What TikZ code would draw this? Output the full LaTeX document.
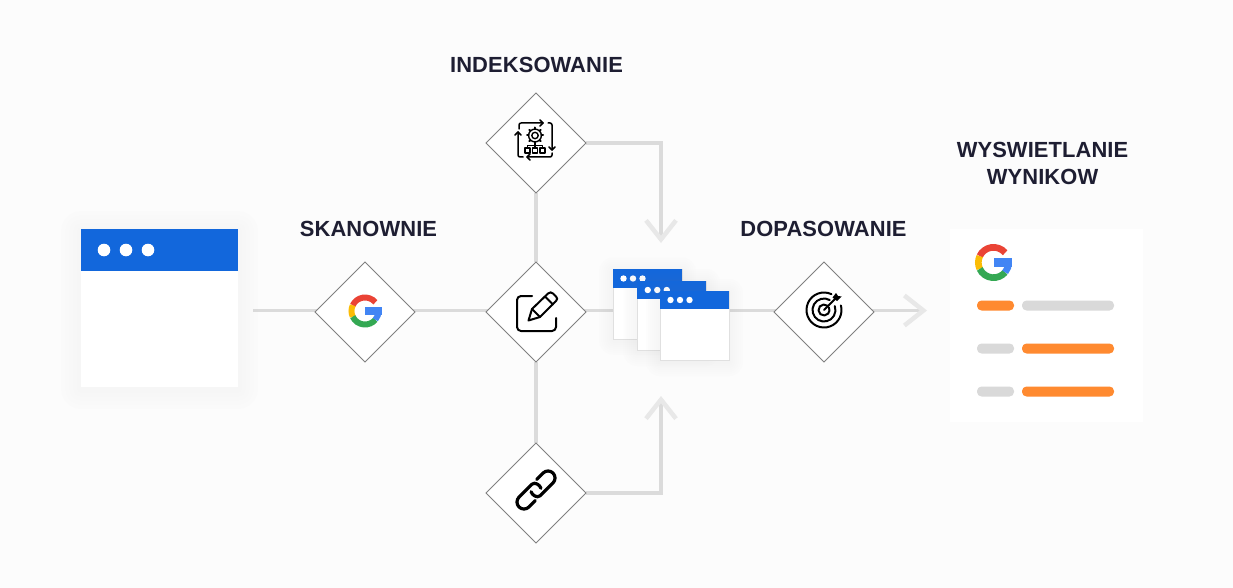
\documentclass[tikz,border=0pt]{standalone}
\usepackage{fontspec}
\setmainfont{Liberation Sans}
\usetikzlibrary{shapes.geometric,arrows.meta,backgrounds}

\definecolor{pagebg}{HTML}{FCFCFC}
\definecolor{linkgray}{HTML}{DBDBDB}
\definecolor{tipgray}{HTML}{E8E8E8}
\definecolor{barblue}{HTML}{1267DC}
\definecolor{labelink}{HTML}{1E1E32}
\definecolor{rowgray}{HTML}{D9D9D9}
\definecolor{roworange}{HTML}{FF8A30}
\definecolor{gred}{HTML}{EA4335}
\definecolor{gyellow}{HTML}{FBBC05}
\definecolor{ggreen}{HTML}{34A853}
\definecolor{gblue}{HTML}{4285F4}

\tikzset{
    stepbox/.style={diamond,draw=black!50,line width=0.8pt,fill=white,minimum width=100pt,minimum height=100pt,inner sep=0pt,outer sep=0pt},
    steplabel/.style={text=labelink,font=\fontsize{21.9}{27}\selectfont\bfseries\addfontfeatures{LetterSpace=0.5},align=center,inner sep=0pt},
    winbody/.style={fill=white,inner sep=0pt,outer sep=0pt},
    winbar/.style={fill=barblue,inner sep=0pt,outer sep=0pt,anchor=north},
    windot/.style={circle,fill=white,inner sep=0pt,outer sep=0pt,minimum size=#1},
    rowbar/.style={fill=#1,rounded corners=4.5pt,minimum height=10pt,inner sep=0pt,outer sep=0pt},
    link/.style={draw=linkgray,line width=3.2pt},
    linktip/.style={-{Straight Barb[length=19pt,width=30pt,line width=4.5pt,color=tipgray]}},
    icon/.style={draw=black,line width=#1,line cap=round,line join=round},
    icon/.default=2pt,
    googleg/.pic={
        \draw[gred,line width=0.36*#1 pt] (-40:0.82*#1) arc (-40:-155:0.82*#1);
        \draw[gyellow,line width=0.36*#1 pt] (-155:0.82*#1) arc (-155:-205:0.82*#1);
        \draw[ggreen,line width=0.36*#1 pt] (-205:0.82*#1) arc (-205:-320:0.82*#1);
        \draw[gblue,line width=0.36*#1 pt] (-320:0.82*#1) arc (-320:-360:0.82*#1);
        \fill[gblue] (0.02*#1,-0.24*#1) rectangle (#1,0.26*#1);
    }
}

% soft shadow under a window
\newcommand{\softshadow}[3]{
    \foreach \s in {#2,...,#3} {
        \fill[black!35,opacity=0.01,rounded corners=\s pt] ([xshift=-\s pt,yshift=-\s pt-2pt]#1.south west) rectangle ([xshift=\s pt,yshift=\s pt-2pt]#1.north east);
    }
}

\begin{document}
\begin{tikzpicture}[x=1pt,y=-1pt]

    \useasboundingbox (0,0) rectangle (1233,588);

    \coordinate (midline) at (0,310.5);
    \coordinate (pageout) at (253,310.5);
    \coordinate (endtip) at (927,310.5);
    \coordinate (downtip) at (661,243);
    \coordinate (uptip) at (661,396);

    % big window
    \coordinate (page) at (159.5,308);
    \node[minimum width=157pt,minimum height=158pt,inner sep=0pt,outer sep=0pt] (pageshade) at (page) {};
    \softshadow{pageshade}{4,8}{20}
    \node[winbody,minimum width=157pt,minimum height=158pt] (pagebox) at (page) {};
    \node[winbar,minimum width=157pt,minimum height=42pt] (pagebar) at (pagebox.north) {};
    \foreach \x in {23,45,67} {
        \node[windot=12.6pt] at ([xshift=\x pt]pagebar.west) {};
    }

    % diamonds
    \node[stepbox] (scan) at (365,312) {};
    \node[stepbox] (edit) at (536,312) {};
    \node[stepbox] (index) at (536,143) {};
    \node[stepbox] (chain) at (536,493) {};
    \node[stepbox] (match) at (824,312) {};

    % stacked windows
    \foreach \n/\cx/\cy in {wina/647.5/304,winb/671.75/315.5,winc/694.5/325.5} {
        \node[minimum width=69pt,minimum height=69.5pt,inner sep=0pt,outer sep=0pt] (\n) at (\cx,\cy) {};
        \softshadow{\n}{2,4}{14}
        \node[winbody,draw=black!12,line width=0.5pt,minimum width=69pt,minimum height=69.5pt] at (\n) {};
        \node[winbar,minimum width=69pt,minimum height=18.5pt] (\n bar) at (\n.north) {};
        \foreach \x in {10.5,20,29.5} {
            \node[windot=6.4pt] at ([xshift=\x pt]\n bar.west) {};
        }
    }

    % connectors
    \begin{scope}[on background layer]
        \fill[pagebg] (0,0) rectangle (1233,588);
        \draw[link] (pageout) -- (scan |- midline);
        \draw[link] (scan |- midline) -- (edit |- midline);
        \draw[link] (edit |- midline) -- (wina |- midline);
        \draw[link] (winc |- midline) -- (match |- midline);
        \draw[link,linktip] (match |- midline) -- (endtip);
        \draw[link] (index) -- (edit);
        \draw[link] (edit) -- (chain);
        \draw[link,linktip] (index) -- (index -| downtip) -- (downtip);
        \draw[link,linktip] (chain) -- (chain -| uptip) -- (uptip);
    \end{scope}

    % labels
    \node[steplabel] (scanlabel) at (368.5,229) {SKANOWNIE};
    \node[steplabel] (indexlabel) at (536.5,65) {INDEKSOWANIE};
    \node[steplabel] (matchlabel) at (823.5,229) {DOPASOWANIE};
    \node[steplabel] (resultlabel) at (1042.5,163.5) {WYSWIETLANIE\\WYNIKOW};

    % result card
    \node[winbody,minimum width=193pt,minimum height=193pt] (card) at (1046.5,325.5) {};
    \foreach \y/\cl/\cr in {305.5/roworange/rowgray,348.5/rowgray/roworange,391.5/rowgray/roworange} {
        \node[rowbar=\cl,minimum width=37pt] at (995.5,\y) {};
        \node[rowbar=\cr,minimum width=92pt] at (1068,\y) {};
    }

    % google logos
    \pic at (365,311) {googleg=16.5};
    \pic at (993.5,262.5) {googleg=18.5};

    % pencil in a square
    \draw[icon] (532,296) -- (521,296) arc (-90:-180:4) -- (517,327) arc (-180:-270:4) -- (552,331) arc (-270:-360:4) -- (556,318);
    \draw[icon] (528.5,320.5) -- (532,309) -- (548,293.5) .. controls (550,292) and (551.5,292) .. (553,293.5) -- (556,296.5) .. controls (557.5,298) and (557.5,299.5) .. (556,301) -- (540,317) -- cycle;
    \draw[icon] (532,309) -- (540,317);
    \draw[icon] (545,296.5) -- (553,304.5);

    % chain
    \begin{scope}[shift={(536,490)},rotate=45]
        \draw[icon=3.2pt] (8,-7) -- (17,-7) arc (-90:90:7) -- (-1,7) .. controls (-5,7) and (-6.5,1) .. (-4.7,-2.3);
        \draw[icon=3.2pt] (-8,7) -- (-17,7) arc (90:270:7) -- (1,-7) .. controls (5,-7) and (6.5,-1) .. (4.7,2.3);
    \end{scope}

    % target
    \draw[icon] (-65:17.5) ++(824,310) arc (-65:-375:17.5);
    \draw[icon] (-60:11.5) ++(824,310) arc (-60:-380:11.5);
    \draw[icon] (-50:5.5) ++(824,310) arc (-50:-390:5.5);
    \draw[icon] (824,310) -- (836,298);
    \fill[black] (832.5,297.5) -- (836,293) -- (838,296) -- (841.5,296.5) -- (837,301) -- cycle;

    % gear and arrows
    \draw[icon=1.5pt] (519,129) -- (519,125) arc (-180:-90:2) -- (543,123);
    \draw[icon=1.5pt] (540,120) -- (543,123) -- (540,126);
    \draw[icon=1.5pt] (548,123) -- (550,123) arc (-90:0:2) -- (552,150);
    \draw[icon=1.5pt] (549,147) -- (552,150) -- (555,147);
    \draw[icon=1.5pt] (552,153) -- (552,155) arc (0:90:2) -- (527,157);
    \draw[icon=1.5pt] (530,154) -- (527,157) -- (530,160);
    \draw[icon=1.5pt] (523,157) -- (520,157) arc (90:180:2) -- (518,132);
    \draw[icon=1.5pt] (515,135) -- (518,132) -- (521,135);
    \draw[icon=1.4pt] (535,135.5) circle (6.4);
    \draw[icon=1.4pt] (535,135.5) circle (3.2);
    \foreach \a in {0,45,...,315} {
        \draw[icon=2pt] (\a:6.4) ++(535,135.5) -- ++(\a:1.6);
    }
    \draw[icon=1.2pt] (535,143) -- (535,148);
    \draw[icon=1.2pt] (527.5,148) -- (527.5,145.5) -- (542.5,145.5) -- (542.5,148);
    \foreach \x in {527.5,535,542.5} {
        \draw[icon=1.2pt] (\x-2.5,148) rectangle (\x+2.5,153);
    }

\end{tikzpicture}
\end{document}
